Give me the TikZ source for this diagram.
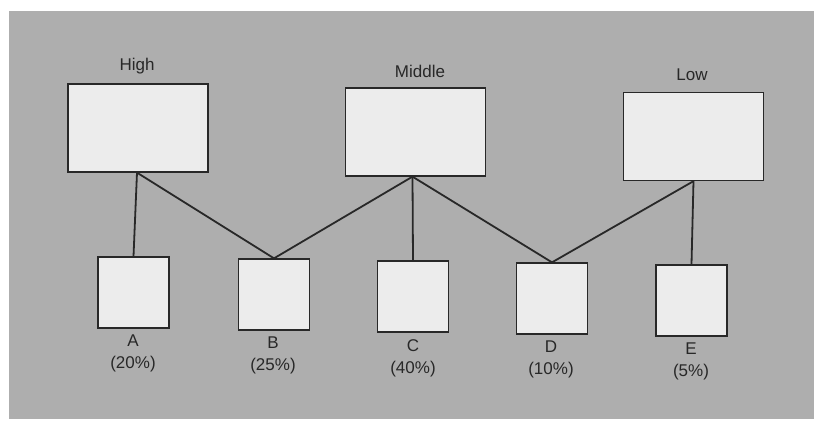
\documentclass[tikz,border=0pt]{standalone}
\usepackage{fontspec}
\setmainfont{Liberation Sans}
\definecolor{bggray}{RGB}{174,174,174}
\definecolor{boxfill}{RGB}{236,236,236}
\definecolor{ink}{RGB}{40,40,40}
\begin{document}
\begin{tikzpicture}[x=1pt,y=-1pt,
  bigbox/.style={draw=ink,line width=1.3pt,fill=boxfill,minimum width=140pt,minimum height=88pt,inner sep=0pt},
  smallbox/.style={draw=ink,line width=1.3pt,fill=boxfill,minimum width=71pt,minimum height=71pt,inner sep=0pt},
  lbl/.style={text=ink,font=\fontsize{17}{22}\selectfont,align=center,inner sep=0pt},
  link/.style={draw=ink,line width=1.8pt}]
\useasboundingbox (0,0) rectangle (814,427);
\fill[white] (0,0) rectangle (814,427);
\fill[bggray] (9,11) rectangle (814,419);
% big boxes
\node[bigbox] (high) at (138,128) {};
\node[bigbox] (mid) at (415.5,132) {};
\node[bigbox] (low) at (693.5,136.5) {};
\node[lbl] (highl) at (137,66) {High};
\node[lbl] (midl) at (420,71) {Middle};
\node[lbl] (lowl) at (692,75) {Low};
% small boxes
\node[smallbox] (a) at (133.5,292.5) {};
\node[smallbox] (b) at (274,294.5) {};
\node[smallbox] (c) at (413,296.5) {};
\node[smallbox] (d) at (552,298.5) {};
\node[smallbox] (e) at (691.5,300.5) {};
\node[lbl,anchor=north] (al) at (133,335) {A\\(20\%)};
\node[lbl,anchor=north] (bl) at (273,337) {B\\(25\%)};
\node[lbl,anchor=north] (cl) at (413,339) {C\\(40\%)};
\node[lbl,anchor=north] (dl) at (551,341) {D\\(10\%)};
\node[lbl,anchor=north] (el) at (691,343) {E\\(5\%)};
% connectors
\coordinate (hs) at ([xshift=-1pt]high.south);
\coordinate (ms) at ([xshift=-3pt]mid.south);
\coordinate (ls) at (low.south);
\draw[link] (hs) -- (a.north);
\draw[link] (hs) -- (b.north);
\draw[link] (ms) -- (b.north);
\draw[link] (ms) -- (c.north);
\draw[link] (ms) -- (d.north);
\draw[link] (ls) -- (d.north);
\draw[link] (ls) -- (e.north);
\end{tikzpicture}
\end{document}
